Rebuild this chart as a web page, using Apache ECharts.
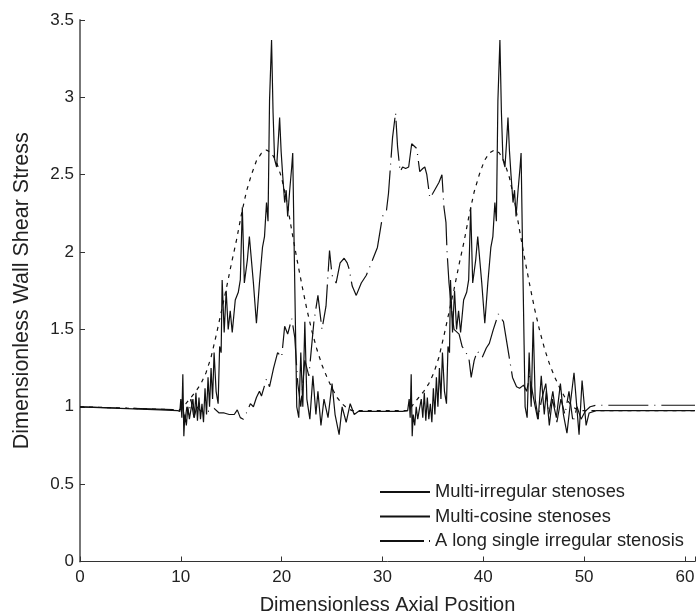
<!DOCTYPE html>
<html>
<head>
<meta charset="utf-8">
<script src="https://cdn.jsdelivr.net/npm/echarts@6/dist/echarts.min.js"></script>
<style>html,body{margin:0;padding:0;background:#fff}#chart{width:696px;height:614px}</style>
</head>
<body>
<div id="chart"></div>
<script>
const seriesNames = ['Multi-irregular stenoses', 'Multi-cosine stenoses', 'A long single irregular stenosis'];
const xTicks = [0, 10, 20, 30, 40, 50, 60];
const yTicks = [0, 0.5, 1, 1.5, 2, 2.5, 3, 3.5];

const multiIrregular = [
  [0,1.0],[2,0.995],[4,0.99],[6,0.985],[8,0.98],[9.7,0.975],
  [9.9,0.97],[10.0,1.05],[10.1,0.93],[10.2,1.21],[10.3,0.81],[10.4,0.95],[10.55,0.88],[10.7,1.0],[10.85,0.92],[11.0,0.98],
  [11.2,1.05],[11.35,0.93],[11.5,1.09],[11.65,0.91],[11.8,1.06],[11.95,0.92],[12.1,1.02],[12.25,0.9],[12.4,1.12],[12.55,0.95],
  [12.7,1.19],[12.85,1.0],[13.0,1.25],[13.15,1.05],[13.3,1.35],[13.5,1.1],[13.7,1.02],[13.85,1.39],[14.0,1.35],[14.1,1.82],
  [14.3,1.48],[14.5,1.75],[14.7,1.5],[14.9,1.62],[15.1,1.48],[15.4,1.69],[15.7,1.74],[15.9,1.82],[16.1,2.29],[16.3,1.80],
  [16.6,1.95],[16.8,2.10],[17.2,1.8],[17.5,1.54],[17.8,1.8],[18.1,2.03],[18.3,2.1],[18.5,2.32],[18.65,2.2],[18.8,2.98],
  [19.0,3.37],[19.15,2.9],[19.3,2.6],[19.5,2.55],[19.65,2.7],[19.8,2.87],[19.95,2.65],[20.1,2.5],[20.3,2.32],[20.45,2.40],
  [20.6,2.23],[20.8,2.4],[21.0,2.55],[21.1,2.64],[21.25,2.0],[21.4,1.4],[21.5,1.0],
  [21.7,0.93],[21.9,1.35],[22.1,1.0],[22.3,1.55],[22.5,1.05],[22.8,0.92],[23.1,1.2],[23.4,0.95],[23.6,1.1],[23.9,0.88],
  [24.2,1.05],[24.6,0.93],[25.0,1.15],[25.3,0.95],[25.7,0.82],[26.0,1.0],[26.4,0.9],[26.8,1.02],[27.2,0.95],[27.6,0.97],
  [28,0.97],[29,0.97],[30,0.97],[31,0.97],[32,0.97],[32.5,0.975],
  [32.55,0.97],[32.65,1.05],[32.75,0.93],[32.85,1.21],[32.95,0.81],[33.05,0.95],[33.2,0.88],[33.35,1.0],[33.5,0.92],[33.65,0.98],
  [33.85,1.05],[34.0,0.93],[34.15,1.09],[34.3,0.91],[34.45,1.06],[34.6,0.92],[34.75,1.02],[34.9,0.9],[35.05,1.12],[35.2,0.95],
  [35.35,1.19],[35.5,1.0],[35.65,1.25],[35.8,1.05],[35.95,1.35],[36.15,1.1],[36.35,1.02],[36.5,1.39],[36.65,1.35],[36.75,1.82],
  [36.95,1.48],[37.15,1.75],[37.35,1.5],[37.55,1.62],[37.75,1.48],[38.05,1.69],[38.35,1.74],[38.55,1.82],[38.75,2.29],[38.95,1.80],
  [39.25,1.95],[39.45,2.10],[39.85,1.8],[40.15,1.54],[40.45,1.8],[40.75,2.03],[40.95,2.1],[41.15,2.32],[41.3,2.2],[41.45,2.98],
  [41.65,3.37],[41.8,2.9],[41.95,2.6],[42.15,2.55],[42.3,2.7],[42.45,2.87],[42.6,2.65],[42.75,2.5],[42.95,2.32],[43.1,2.40],
  [43.25,2.23],[43.45,2.4],[43.65,2.55],[43.75,2.64],[43.9,2.0],[44.05,1.4],[44.15,1.0],
  [44.35,0.93],[44.55,1.35],[44.75,1.0],[44.95,1.55],[45.15,1.05],[45.45,0.92],[45.75,1.2],[46.05,0.95],[46.25,1.1],[46.55,0.88],
  [46.85,1.05],[47.25,0.93],[47.65,1.15],[47.95,0.95],[48.3,0.83],[48.6,1.0],[49.0,1.22],[49.5,0.82],[49.8,1.17],[50.2,0.88],
  [50.5,0.96],[51.2,0.975],[55,0.975],[61,0.975]
];

const multiCosine = [
  [0,1.0],[5,0.99],[9.8,0.98],[10,0.985],[10.5,1.02],[11,1.06],[11.5,1.10],[12,1.15],[12.5,1.22],[13,1.32],
  [13.5,1.46],[14,1.61],[14.5,1.76],[15,1.92],[15.5,2.07],[16,2.24],[16.5,2.39],[17,2.50],[17.5,2.59],[18,2.64],
  [18.5,2.66],[19,2.64],[19.5,2.58],[20,2.48],[20.5,2.33],[21,2.14],[21.5,1.96],[22,1.79],[22.5,1.63],[23,1.49],
  [23.5,1.37],[24,1.27],[24.5,1.19],[25,1.12],[25.5,1.06],[26,1.02],[26.5,0.99],[27,0.975],[32.6,0.975],
  [33.1,1.02],[33.6,1.06],[34.1,1.10],[34.6,1.15],[35.1,1.22],[35.6,1.32],[36.1,1.46],[36.6,1.61],[37.1,1.76],[37.6,1.92],
  [38.1,2.07],[38.6,2.24],[39.1,2.39],[39.6,2.50],[40.1,2.59],[40.6,2.64],[41.1,2.66],[41.6,2.64],[42.1,2.58],[42.6,2.48],
  [43.1,2.33],[43.6,2.14],[44.1,1.96],[44.6,1.79],[45.1,1.63],[45.6,1.49],[46.1,1.37],[46.6,1.27],[47.1,1.19],[47.6,1.12],
  [48.1,1.06],[48.6,1.02],[49.1,0.99],[49.6,0.975],[61,0.975]
];

const longSingle = [
  [0,1.0],[5,0.99],[9.8,0.98],[10.0,0.97],[10.2,1.0],[10.4,0.9],[10.6,1.0],[10.8,0.95],[11.0,1.05],[11.3,0.93],
  [11.6,1.0],[12.0,0.97],[12.3,0.98],[12.8,0.97],[13.3,0.99],[13.8,0.96],[14.3,0.96],[14.8,0.95],[15.3,0.95],[15.6,0.98],
  [15.9,0.93],[16.2,0.92],[16.5,0.96],[16.9,1.02],[17.2,1.0],[17.5,1.06],[17.8,1.10],[18.0,1.07],[18.5,1.18],[18.8,1.13],
  [19.2,1.25],[19.6,1.35],[20.0,1.32],[20.3,1.52],[20.6,1.47],[21.0,1.57],[21.3,1.45],[21.6,1.15],[21.9,1.0],[22.3,1.3],
  [22.7,1.2],[23.2,1.55],[23.6,1.72],[24.0,1.5],[24.4,1.65],[24.75,2.01],[25.0,1.85],[25.4,1.8],[25.8,1.93],[26.2,1.96],
  [26.5,1.93],[26.7,1.89],[27.0,1.78],[27.4,1.72],[27.9,1.8],[28.4,1.85],[28.9,1.93],[29.5,2.03],[30.0,2.23],[30.4,2.27],
  [30.6,2.38],[30.9,2.65],[31.0,2.74],[31.3,2.9],[31.5,2.68],[31.75,2.52],[32.0,2.55],[32.3,2.54],[32.6,2.55],[32.9,2.70],
  [33.0,2.71],[33.4,2.67],[33.7,2.52],[34.0,2.54],[34.2,2.55],[34.4,2.5],[34.7,2.35],[35.0,2.38],[35.6,2.45],[35.9,2.5],
  [36.1,2.29],[36.3,2.19],[36.4,2.01],[36.6,1.8],[36.9,1.6],[37.1,1.5],[37.6,1.47],[37.9,1.39],[38.3,1.35],[38.6,1.30],
  [38.8,1.19],[39.1,1.30],[39.4,1.36],[39.9,1.32],[40.3,1.38],[40.6,1.41],[41.0,1.5],[41.5,1.6],[42.0,1.55],[42.2,1.47],
  [42.9,1.19],[43.3,1.13],[43.6,1.12],[44.0,1.14],[44.3,1.1],[44.6,1.2],[45.0,1.05],[45.4,0.92],[45.8,1.05],[46.2,1.15],
  [46.5,0.95],[46.9,1.1],[47.3,0.9],[47.7,1.05],[48.1,0.95],[48.5,1.1],[48.9,0.9],[49.3,1.0],[49.7,0.92],[50.1,0.97],
  [50.6,1.0],[51.2,1.01],[61,1.01]
];

const FONT = '"Liberation Sans", Arial, sans-serif';
const chart = echarts.init(document.getElementById('chart'), null, {renderer: 'canvas'});
const lineStyles = [
  {color: '#111', width: 1.2, type: 'solid'},
  {color: '#111', width: 1.2, type: [4, 5]},
  {color: '#111', width: 1.2, type: [40, 6, 1, 6]}
];
const legendLineTypes = ['solid', 'solid', [44, 5, 1, 5]];
const datasets = [multiIrregular, multiCosine, longSingle];
chart.setOption({
  animation: false,
  backgroundColor: '#fff',
  grid: {left: 80, top: 20, right: 1, bottom: 52.5, containLabel: false, outerBoundsMode: 'none'},
  legend: {
    orient: 'vertical', left: 374, top: 478,
    itemWidth: 50, itemHeight: 14, itemGap: 6.5,
    itemStyle: {opacity: 0},
    textStyle: {fontFamily: FONT, fontSize: 18.3, color: '#222'},
    data: seriesNames.map((n, i) => ({name: n, lineStyle: {type: legendLineTypes[i]}}))
  },
  xAxis: {
    type: 'value', min: 0, max: 61, interval: 10,
    name: 'Dimensionless Axial Position', nameLocation: 'middle', nameGap: 34,
    nameTextStyle: {fontFamily: FONT, fontSize: 20, color: '#222'},
    axisLine: {onZero: false, lineStyle: {color: '#333', width: 1}},
    axisTick: {inside: true, length: 5, lineStyle: {color: '#333'}},
    axisLabel: {fontFamily: FONT, fontSize: 17, color: '#222', margin: 7,
      formatter: v => (xTicks.indexOf(v) >= 0 ? String(v) : '')},
    splitLine: {show: false}
  },
  yAxis: {
    type: 'value', min: 0, max: 3.5, interval: 0.5,
    name: 'Dimensionless Wall Shear Stress', nameLocation: 'middle', nameGap: 47,
    nameTextStyle: {fontFamily: FONT, fontSize: 21.5, color: '#222'},
    axisLine: {onZero: false, lineStyle: {color: '#777', width: 2}},
    axisTick: {inside: true, length: 5, lineStyle: {color: '#333'}},
    axisLabel: {fontFamily: FONT, fontSize: 17, color: '#222', margin: 6,
      formatter: v => (yTicks.indexOf(v) >= 0 ? String(v) : '')},
    splitLine: {show: false}
  },
  series: datasets.map((d, i) => ({
    name: seriesNames[i], type: 'line', data: d, symbol: 'none', showSymbol: false,
    lineStyle: lineStyles[i], itemStyle: {color: '#111'}, z: 3 - i
  }))
});
</script>
</body>
</html>
